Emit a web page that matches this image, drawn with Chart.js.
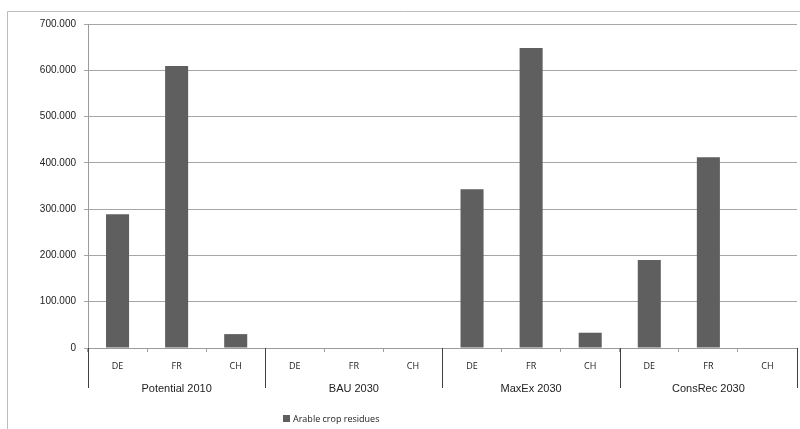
<!DOCTYPE html>
<html>
<head>
<meta charset="utf-8">
<script src="https://cdn.jsdelivr.net/npm/chart.js@4"></script>
<style>
  html, body { margin: 0; padding: 0; background: #fff; }
  #wrap { width: 800px; height: 429px; }
</style>
</head>
<body>
<div id="wrap"><canvas id="chart" width="800" height="429"></canvas></div>
<script>
const groups = ["Potential 2010", "BAU 2030", "MaxEx 2030", "ConsRec 2030"];
const countries = ["DE", "FR", "CH"];
const seriesLabel = "Arable crop residues";

const potential2010 = [289000, 609000, 30000];
const bau2030 = [0, 0, 0];
const maxEx2030 = [343000, 648000, 33000];
const consRec2030 = [190000, 412000, 0];

const yTicks = [0, 100000, 200000, 300000, 400000, 500000, 600000, 700000];

const numberFmt = new Intl.NumberFormat("de-DE");

const labels = groups.flatMap(() => countries);
const values = [...potential2010, ...bau2030, ...maxEx2030, ...consRec2030];

// frame, group separators, group labels and the little legend
const extras = {
  id: "extras",
  beforeDraw(chart) {
    const ctx = chart.ctx;
    ctx.save();
    ctx.strokeStyle = "#bdbdbd";
    ctx.lineWidth = 1;
    ctx.beginPath();
    ctx.moveTo(7.5, 440);
    ctx.lineTo(7.5, 11.5);
    ctx.lineTo(810, 11.5);
    ctx.stroke();
    ctx.restore();
  },
  afterDraw(chart) {
    const ctx = chart.ctx;
    const x = chart.scales.x;
    const area = chart.chartArea;
    const n = countries.length;
    ctx.save();
    ctx.strokeStyle = "#404040";
    ctx.lineWidth = 1;
    for (let g = 0; g <= groups.length; g++) {
      let px;
      if (g < groups.length) px = x.getPixelForValue(g * n) - (x.getPixelForValue(1) - x.getPixelForValue(0)) / 2;
      else px = x.getPixelForValue(g * n - 1) + (x.getPixelForValue(1) - x.getPixelForValue(0)) / 2;
      px = Math.round(px) + 0.5;
      ctx.beginPath();
      ctx.moveTo(px, area.bottom);
      ctx.lineTo(px, area.bottom + 40);
      ctx.stroke();
    }
    ctx.fillStyle = "#222";
    ctx.font = "11px 'Liberation Sans', Arial, sans-serif";
    ctx.textAlign = "center";
    ctx.textBaseline = "middle";
    groups.forEach((name, g) => {
      const cx = (x.getPixelForValue(g * n) + x.getPixelForValue(g * n + n - 1)) / 2;
      ctx.fillText(name, cx, area.bottom + 41);
    });

    // legend
    const ds = chart.data.datasets[0];
    ctx.fillStyle = ds.backgroundColor;
    ctx.fillRect(283, 415, 7, 7);
    ctx.fillStyle = "#222";
    ctx.font = "9px 'Open Sans', 'DejaVu Sans', sans-serif";
    ctx.textAlign = "left";
    ctx.fillText(ds.label, 293, 419);
    ctx.restore();
  },
};

new Chart(document.getElementById("chart"), {
  type: "bar",
  data: {
    labels: labels,
    datasets: [
      {
        label: seriesLabel,
        data: values,
        backgroundColor: "#5f5f5f",
        borderWidth: 0,
        categoryPercentage: 1,
        barPercentage: 0.39,
      },
    ],
  },
  options: {
    responsive: false,
    animation: false,
    devicePixelRatio: 1,
    layout: { padding: { left: 10, right: 3, top: 24, bottom: 0 } },
    plugins: {
      legend: { display: false },
      tooltip: { enabled: false },
    },
    scales: {
      x: {
        afterFit: (s) => { s.height = 81; },
        grid: {
          drawOnChartArea: false,
          drawTicks: true,
          tickLength: 4,
          color: "#a0a0a0",
          offset: true,
        },
        border: { display: true, color: "#9a9a9a" },
        ticks: {
          color: "#222",
          padding: 9,
          maxRotation: 0,
          autoSkip: false,
          font: { family: "'Open Sans', 'DejaVu Sans', sans-serif", size: 9 },
        },
      },
      y: {
        min: 0,
        max: 700000,
        afterFit: (s) => { s.width = 78; },
        afterBuildTicks: (s) => { s.ticks = yTicks.map((v) => ({ value: v })); },
        grid: { color: "#a6a6a6", tickLength: 4 },
        border: { display: true, color: "#9a9a9a" },
        ticks: {
          color: "#222",
          padding: 8,
          font: { family: "'Liberation Sans', Arial, sans-serif", size: 10 },
          callback: (v) => numberFmt.format(v),
        },
      },
    },
  },
  plugins: [extras],
});
</script>
</body>
</html>
